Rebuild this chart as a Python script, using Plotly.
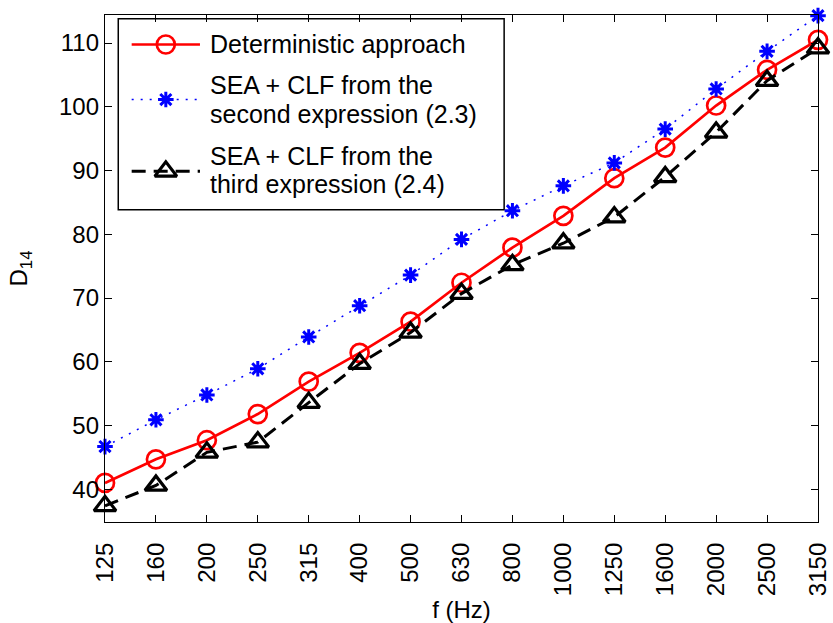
import plotly.graph_objects as go

# One-third-octave band centre frequencies (Hz)
freqs = ["125", "160", "200", "250", "315", "400", "500", "630", "800",
         "1000", "1250", "1600", "2000", "2500", "3150"]

# D14 values per band
deterministic = [41.0, 44.7, 47.7, 51.8, 56.9, 61.4, 66.3, 72.4, 77.9,
                 82.9, 88.8, 93.6, 100.2, 105.8, 110.5]
sea_clf_23 = [46.7, 50.9, 54.8, 58.9, 63.9, 68.8, 73.6, 79.2, 83.7,
              87.6, 91.2, 96.5, 102.8, 108.7, 114.3]
sea_clf_24 = [37.4, 40.6, 45.8, 47.4, 53.6, 59.7, 64.6, 70.7, 75.2,
              78.6, 82.7, 89.0, 96.0, 104.1, 109.2]

y_ticks = [40, 50, 60, 70, 80, 90, 100, 110]

legend_rows = [
    ["Deterministic approach"],
    ["SEA + CLF from the", "second expression (2.3)"],
    ["SEA + CLF from the", "third expression (2.4)"],
]

FONT = "Liberation Sans, Arial, Helvetica, sans-serif"

styles = [
    dict(line=dict(color="#ff0000", width=2.7),
         marker=dict(symbol="circle-open", size=18, color="#ff0000",
                     line=dict(width=2.7, color="#ff0000"))),
    dict(line=dict(color="#0000ff", width=1.5, dash="2px,7px"),
         marker=dict(symbol="asterisk-open", size=13, color="#0000ff",
                     line=dict(width=3, color="#0000ff"))),
    dict(line=dict(color="#000000", width=3, dash="14px,8px"),
         marker=dict(symbol="triangle-up-open", size=19, color="#000000",
                     line=dict(width=3.2, color="#000000"))),
]

fig = go.Figure()

for series, st in zip([deterministic, sea_clf_23, sea_clf_24], styles):
    fig.add_trace(go.Scatter(
        x=freqs, y=series, mode="lines+markers",
        line=st["line"], marker=st["marker"],
        cliponaxis=False, showlegend=False, hoverinfo="x+y",
    ))

# Legend drawn on an overlay axis spanning [0, 1] in both directions
leg_x0, leg_x1 = 0.0186, 0.5598
leg_y0, leg_y1 = 0.616, 0.9925
sample_x = [0.0374, 0.1332]
sample_mid = 0.0853
sample_y = [0.9418, 0.8332, 0.6916]
text_x = 0.1444
text_y = [[0.9437], [0.8618, 0.8055], [0.7212, 0.6663]]

fig.add_shape(type="rect", xref="paper", yref="paper",
              x0=leg_x0, x1=leg_x1, y0=leg_y0, y1=leg_y1,
              line=dict(color="black", width=1.5), fillcolor="white",
              layer="below")

for st, sy in zip(styles, sample_y):
    fig.add_trace(go.Scatter(
        x=sample_x, y=[sy, sy], mode="lines", line=st["line"],
        xaxis="x2", yaxis="y2", showlegend=False, hoverinfo="skip"))
    fig.add_trace(go.Scatter(
        x=[sample_mid], y=[sy], mode="markers", marker=st["marker"],
        xaxis="x2", yaxis="y2", showlegend=False, hoverinfo="skip"))

for lines, ys in zip(legend_rows, text_y):
    for txt, ty in zip(lines, ys):
        fig.add_annotation(
            text=txt, x=text_x, y=ty, xref="paper", yref="paper",
            xanchor="left", yanchor="middle", showarrow=False,
            font=dict(size=25, color="black", family=FONT))

axis_common = dict(
    showline=True, linecolor="black", linewidth=1.3, mirror="ticks",
    ticks="inside", ticklen=7, tickwidth=1.2, tickcolor="black",
    showgrid=False, zeroline=False, automargin=False,
    tickfont=dict(size=24, color="black", family=FONT),
)

fig.update_layout(
    width=833, height=623,
    margin=dict(l=105, r=15, t=15, b=101, autoexpand=False),
    paper_bgcolor="white", plot_bgcolor="white",
    font=dict(family=FONT, color="black"),
    xaxis=dict(
        type="category", range=[0, 14], tickangle=-90,
        ticklabelstandoff=10,
        title=dict(text="f (Hz)", font=dict(size=24, family=FONT), standoff=14),
        **axis_common,
    ),
    yaxis=dict(
        range=[34.87, 114.4], tickvals=y_ticks,
        title=dict(text="D<sub>14</sub>", font=dict(size=24, family=FONT), standoff=24),
        **axis_common,
    ),
    xaxis2=dict(overlaying="x", range=[0, 1], visible=False, fixedrange=True),
    yaxis2=dict(overlaying="y", range=[0, 1], visible=False, fixedrange=True),
)

fig.write_html("out.html")
